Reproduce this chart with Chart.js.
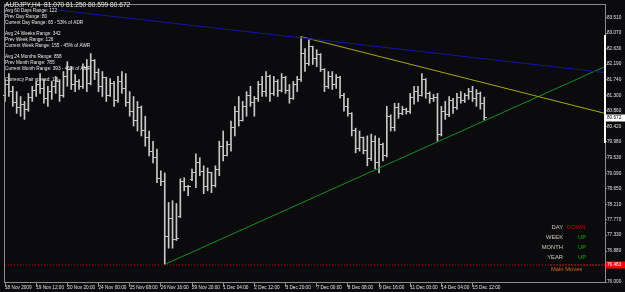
<!DOCTYPE html>
<html>
<head>
<meta charset="utf-8">
<script src="https://cdn.jsdelivr.net/npm/chart.js@4"></script>
<style>
  html, body { margin: 0; padding: 0; background: #0b0b0e; }
  #wrap { width: 625px; height: 292px; position: relative; }
</style>
</head>
<body>
<div id="wrap"><canvas id="chart"></canvas></div>
<script>
"use strict";

// x axis: one slot per H4 bar, labels every 8 bars, empty slots on the right (chart shift)
var slotCount = 155;
var tickLabels = ['18 Nov 2009', '19 Nov 12:00', '20 Nov 20:00', '24 Nov 00:00', '25 Nov 08:00',
  '26 Nov 16:00', '29 Nov 20:00', '1 Dec 04:00', '2 Dec 12:00', '3 Dec 20:00', '7 Dec 00:00',
  '8 Dec 08:00', '9 Dec 16:00', '11 Dec 00:00', '14 Dec 04:00', '15 Dec 12:00'];

// AUDJPY H4 bars
var opens = [81.30,81.60,81.40,81.10,80.95,81.05,80.90,81.25,81.45,81.60,
  81.50,81.20,81.40,81.55,81.70,81.30,81.85,82.05,81.60,81.70,
  81.55,82.10,81.65,82.30,81.95,81.55,81.80,81.30,81.65,81.15,
  81.70,81.50,81.10,80.85,80.60,80.95,80.30,80.10,79.70,79.55,
  78.95,78.85,77.30,77.80,77.20,77.85,78.85,78.70,78.90,79.10,
  79.40,79.15,78.70,79.10,78.75,79.20,79.85,79.60,79.90,80.40,
  80.85,80.60,81.00,81.30,81.10,81.20,81.60,81.40,81.85,81.35,
  81.70,81.45,81.80,81.45,81.20,81.60,81.75,82.50,82.20,82.70,
  82.35,82.45,82.05,81.55,81.85,81.60,81.80,81.30,81.00,80.80,
  80.30,79.80,80.10,79.75,79.50,80.00,79.40,79.90,79.60,80.70,
  80.40,80.95,80.80,80.90,80.85,81.25,81.40,81.30,81.75,81.35,
  81.20,81.25,80.20,80.85,80.75,81.15,80.95,81.25,81.15,81.30,
  81.40,81.20,81.35,81.070];
var highs = [81.75,81.92,81.56,81.41,81.27,81.13,81.36,81.56,81.70,81.92,
  81.75,81.56,81.70,81.84,81.75,81.98,82.26,82.12,81.89,81.75,
  82.20,82.32,82.49,82.32,82.06,81.98,81.82,81.78,81.70,81.84,
  81.98,81.92,81.41,81.27,81.13,81.00,80.71,80.29,80.00,79.78,
  79.16,79.10,78.26,78.31,78.23,78.93,78.96,78.75,79.21,79.64,
  79.53,79.30,79.24,79.12,79.30,80.00,80.29,80.00,80.57,80.99,
  81.27,81.13,81.41,81.56,81.27,81.70,81.84,81.98,81.88,81.84,
  81.75,81.92,81.84,81.61,81.70,81.84,82.97,82.63,82.88,82.70,
  82.60,82.49,82.06,81.98,81.98,81.89,81.84,81.36,81.22,80.81,
  80.37,80.29,80.12,80.15,80.20,80.15,80.09,79.95,80.99,80.75,
  81.08,81.08,80.99,80.94,81.36,81.56,81.56,81.92,81.78,81.40,
  81.33,81.36,80.99,81.13,81.27,81.22,81.36,81.41,81.36,81.50,
  81.56,81.47,81.40,81.250];
var lows = [81.13,81.27,80.99,80.79,80.71,80.62,80.85,81.13,81.27,81.36,
  81.08,80.99,81.19,81.36,81.13,81.25,81.56,81.47,81.41,81.47,
  81.50,81.41,81.60,81.75,81.41,81.27,81.13,81.27,80.99,81.10,
  81.36,80.99,80.71,80.43,80.29,80.15,79.86,79.58,79.38,78.82,
  78.74,76.50,76.96,76.96,77.18,77.83,78.59,78.45,78.88,78.68,
  79.02,78.51,78.59,78.54,78.70,79.02,79.44,79.58,79.72,80.15,
  80.43,80.57,80.71,80.99,80.71,81.13,81.27,81.27,81.13,81.30,
  81.27,81.40,81.36,81.08,81.19,81.41,81.70,81.98,82.15,82.18,
  82.12,81.98,81.41,81.50,81.47,81.50,81.22,80.85,80.71,80.15,
  79.67,79.72,79.64,79.30,79.45,79.21,79.10,79.44,79.55,80.29,
  80.29,80.65,80.75,80.77,80.79,81.05,81.13,81.28,81.22,81.08,
  81.13,80.00,80.15,80.62,80.70,80.79,80.90,81.08,81.10,81.19,
  81.13,80.99,80.91,80.599];
var closes = [81.60,81.40,81.10,80.95,81.05,80.90,81.25,81.45,81.60,81.50,
  81.20,81.40,81.55,81.70,81.30,81.85,82.05,81.60,81.70,81.55,
  82.10,81.65,82.30,81.95,81.55,81.80,81.30,81.65,81.15,81.70,
  81.50,81.10,80.85,80.60,80.95,80.30,80.10,79.70,79.55,78.95,
  78.85,77.30,77.80,77.20,77.25,78.85,78.70,78.70,79.10,79.40,
  79.15,78.70,79.10,78.75,79.20,79.85,79.60,79.90,80.40,80.85,
  80.60,81.00,81.30,81.10,81.20,81.60,81.40,81.85,81.35,81.70,
  81.45,81.80,81.45,81.20,81.60,81.75,82.50,82.20,82.70,82.35,
  82.45,82.05,81.55,81.85,81.60,81.80,81.30,81.00,80.80,80.30,
  79.80,80.10,79.75,79.50,80.00,79.40,79.90,79.60,80.70,80.40,
  80.95,80.80,80.90,80.85,81.25,81.40,81.30,81.75,81.35,81.20,
  81.25,80.20,80.85,80.75,81.15,80.95,81.25,81.15,81.30,81.40,
  81.20,81.35,81.07,80.672];

// price axis
var yMin = 76.0, yMax = 83.87;
var yTicks = [76.000, 76.880, 77.330, 77.770, 78.210, 78.650, 79.090, 79.530, 79.980, 80.420,
  80.860, 81.300, 81.740, 82.190, 82.630, 83.070, 83.510];

// trend lines: [slot, price]
var blueLine = [[14, 83.72], [154, 81.95]];
var yellowLine = [[76, 82.97], [154, 80.79]];
var greenLine = [[41, 76.50], [154, 82.12]];
var lowLevel = 76.483;
var mainMovesLine = [[140, 76.483], [154, 76.483]];
var rangeBar = [79.95, 83.02];
var lastPrice = 80.672;

var infoLines = ['Avg 60 Days Range: 122', 'Prev Day Range: 80', 'Current Day Range: 65 - 53% of ADR', '',
  'Avg 24 Weeks Range: 342', 'Prev Week Range: 126', 'Current Week Range: 155 - 45% of AWR', '',
  'Avg 24 Months Range: 858', 'Prev Month Range: 785', 'Current Month Range: 393 - 46% of AMR', '',
  'Currency Pair spread: 1.6'];
var moveNames = ['DAY', 'WEEK', 'MONTH', 'YEAR'];
var moveStates = ['DOWN', 'UP', 'UP', 'UP'];

var barColor = '#c8c8c8';
var font = 'Liberation Sans, Arial, sans-serif';

var slots = Array.from({ length: slotCount }, function(_, i) { return String(i); });

function tickImage(left) {
  var c = document.createElement('canvas');
  c.width = 5; c.height = 1;
  var g = c.getContext('2d');
  g.fillStyle = barColor;
  g.fillRect(left ? 0 : 3, 0, 2, 1);
  return c;
}

function linePts(pts) {
  return pts.map(function(p) { return { x: slots[p[0]], y: p[1] }; });
}

var overlay = {
  id: 'overlay',
  beforeDatasetsDraw: function(chart) {
    var a = chart.chartArea, ctx = chart.ctx;
    ctx.save();
    ctx.strokeStyle = '#8c8c8c';
    ctx.lineWidth = 1;
    ctx.strokeRect(a.left - 0.5, a.top - 0.5, a.right - a.left + 1, a.bottom - a.top + 1);
    ctx.restore();
  },
  afterDraw: function(chart) {
    var a = chart.chartArea, ctx = chart.ctx, y = chart.scales.y;
    ctx.save();
    // range marker on the right frame
    ctx.strokeStyle = '#ffffff';
    ctx.lineWidth = 2;
    ctx.beginPath();
    ctx.moveTo(a.right, y.getPixelForValue(rangeBar[0]));
    ctx.lineTo(a.right, y.getPixelForValue(rangeBar[1]));
    ctx.stroke();

    // header + info text
    ctx.textBaseline = 'middle';
    ctx.textAlign = 'left';
    ctx.fillStyle = '#e8e8e8';
    ctx.font = '6.6px ' + font;
    var n = opens.length - 1;
    ctx.fillText('AUDJPY,H4  ' + opens[n].toFixed(3) + ' ' + highs[n].toFixed(3) + ' ' +
      lows[n].toFixed(3) + ' ' + closes[n].toFixed(3), 5, 5);
    ctx.font = '4.7px ' + font;
    infoLines.forEach(function(t, i) { if (t) ctx.fillText(t, 5, 11.2 + i * 5.75); });

    // trend panel
    ctx.font = '5.8px ' + font;
    moveNames.forEach(function(nm, i) {
      var yy = 227 + i * 10;
      ctx.textAlign = 'right';
      ctx.fillStyle = '#cfc6b8';
      ctx.fillText(nm, 563, yy);
      ctx.textAlign = 'left';
      ctx.fillStyle = moveStates[i] === 'UP' ? '#00b400' : '#d00000';
      ctx.fillText(moveStates[i], moveStates[i] === 'UP' ? 578 : 567, yy);
    });
    ctx.textAlign = 'left';
    ctx.fillStyle = '#d2691e';
    ctx.fillText('Main Moves', 551, 269);

    // price boxes on the axis
    ctx.font = '4.7px ' + font;
    var py = Math.round(y.getPixelForValue(lastPrice));
    ctx.fillStyle = '#ffffff';
    ctx.fillRect(a.right + 1, py - 3.5, 19, 7);
    ctx.fillStyle = '#000000';
    ctx.fillText(lastPrice.toFixed(3), a.right + 2, py);
    var ry = Math.round(y.getPixelForValue(lowLevel));
    ctx.fillStyle = '#ff0000';
    ctx.fillRect(a.right + 1, ry - 3.5, 19, 7);
    ctx.fillStyle = '#ffffff';
    ctx.fillText(lowLevel.toFixed(3), a.right + 2, ry);
    ctx.restore();
  }
};

var ctx = document.getElementById('chart').getContext('2d');
var myChart = new Chart(ctx, {
  type: 'bar',
  data: {
    labels: slots,
    datasets: [{
      type: 'line', label: 'low level',
      data: [{ x: slots[0], y: lowLevel }, { x: slots[slotCount - 1], y: lowLevel }],
      borderColor: '#c00000', borderWidth: 1, borderDash: [1, 2], pointRadius: 0
    }, {
      type: 'line', label: 'main moves',
      data: linePts(mainMovesLine),
      borderColor: '#d2691e', borderWidth: 1, borderDash: [1, 2], pointRadius: 0
    }, {
      type: 'line', label: 'blue',
      data: linePts(blueLine),
      borderColor: '#1414a8', borderWidth: 1, pointRadius: 0
    }, {
      type: 'line', label: 'yellow',
      data: linePts(yellowLine),
      borderColor: '#a8a814', borderWidth: 1, pointRadius: 0
    }, {
      type: 'line', label: 'green',
      data: linePts(greenLine),
      borderColor: '#14901e', borderWidth: 1, pointRadius: 0
    }, {
      label: 'range',
      data: lows.map(function(l, i) { return [l, highs[i]]; }),
      backgroundColor: barColor, barThickness: 1, grouped: false
    }, {
      type: 'line', label: 'open',
      data: opens, showLine: false, pointStyle: tickImage(true), pointRadius: 2
    }, {
      type: 'line', label: 'close',
      data: closes, showLine: false, pointStyle: tickImage(false), pointRadius: 2
    }]
  },
  options: {
    responsive: true,
    maintainAspectRatio: false,
    animation: false,
    devicePixelRatio: 1,
    layout: { padding: { left: 2, top: 3, right: 0, bottom: 0 } },
    plugins: { legend: { display: false }, tooltip: { enabled: false } },
    scales: {
      x: {
        offset: false,
        border: { display: false },
        grid: { drawOnChartArea: false, tickLength: 5, color: '#8c8c8c', offset: false },
        ticks: {
          autoSkip: false, maxRotation: 0, align: 'start', padding: -2,
          color: '#e0e0e0', font: { family: font, size: 4.7 },
          callback: function(v, i) { return i % 8 === 0 && tickLabels[i / 8] ? tickLabels[i / 8] : null; }
        },
        afterFit: function(s) { s.height = 10; }
      },
      y: {
        position: 'right',
        min: yMin, max: yMax,
        border: { display: false },
        grid: { drawOnChartArea: false, tickLength: 2, color: '#8c8c8c' },
        ticks: {
          padding: 0, color: '#e0e0e0', font: { family: font, size: 4.7 },
          callback: function(v) { return v.toFixed(3); }
        },
        afterBuildTicks: function(s) { s.ticks = yTicks.map(function(v) { return { value: v }; }); },
        afterFit: function(s) { s.width = 20; }
      }
    }
  },
  plugins: [overlay]
});
</script>
</body>
</html>
